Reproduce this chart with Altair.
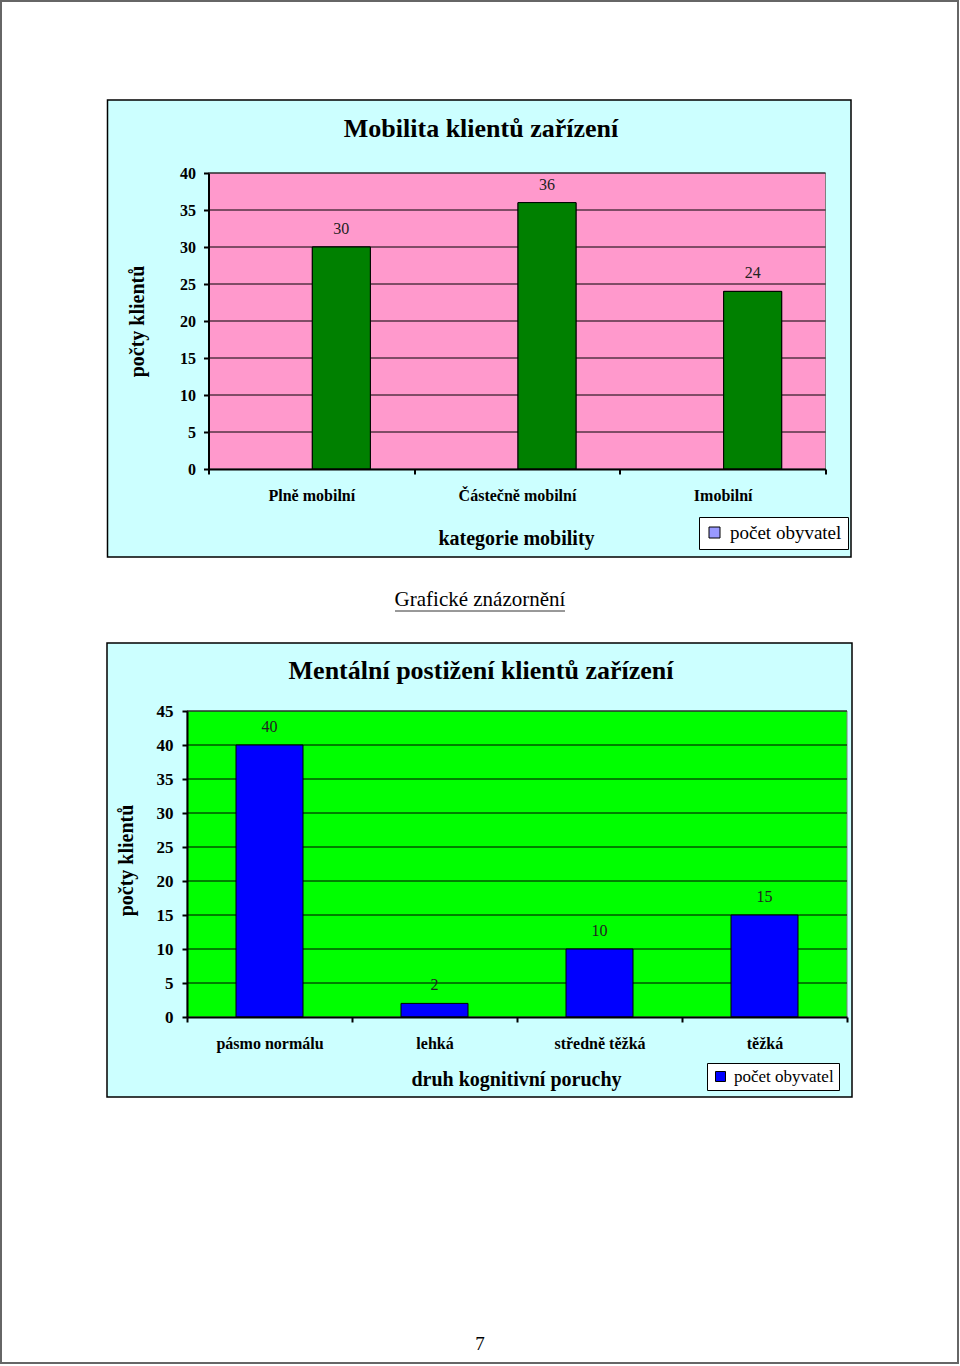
import altair as alt
import pandas as pd

SERIF = "Liberation Serif"

# ---------------- data ----------------
# Chart 1
mob_title = "Mobilita klientů zařízení"
mob_categories = ["Plně mobilní", "Částečně mobilní", "Imobilní"]
mob_values = [30, 36, 24]
mob_ticks = [0, 5, 10, 15, 20, 25, 30, 35, 40]
mob_x_title = "kategorie mobility"

# Chart 2
ment_title = "Mentální postižení klientů zařízení"
ment_categories = ["pásmo normálu", "lehká", "středně těžká", "těžká"]
ment_values = [40, 2, 10, 15]
ment_ticks = [0, 5, 10, 15, 20, 25, 30, 35, 40, 45]
ment_x_title = "druh kognitivní poruchy"

y_title = "počty klientů"
series_name = "počet obyvatel"
section_heading = "Grafické znázornění"
page_number = "7"

one = pd.DataFrame({"k": [0]})


def axis_x(title, tx, ty):
    return alt.Axis(
        title=title, titleX=tx, titleY=ty, titleAlign="center", titleBaseline="middle",
        titleFont=SERIF, titleFontSize=20, titleFontWeight="bold", titleColor="black",
        labelFont=SERIF, labelFontSize=16, labelFontWeight="bold", labelColor="black",
        labelAngle=0, labelBaseline="middle", labelPadding=21, labelLimit=300,
        tickBand="extent", tickSize=5, tickWidth=2, tickColor="black",
        domainColor="black", domainWidth=2, grid=False, zindex=1,
    )


def axis_y(values, tx, ty, lsize, lpad):
    return alt.Axis(
        title=y_title, values=values, titleX=tx, titleY=ty, titleAngle=270,
        titleAlign="center", titleBaseline="middle",
        titleFont=SERIF, titleFontSize=20, titleFontWeight="bold", titleColor="black",
        labelFont=SERIF, labelFontSize=lsize, labelFontWeight="bold", labelColor="black",
        labelPadding=lpad, labelFlush=False, labelOverlap=False,
        tickSize=5, tickWidth=2, tickColor="black",
        domainColor="black", domainWidth=2, grid=False, zindex=1,
    )


def text_at(txt, x, y, size, bold=False, color="black"):
    return alt.Chart(one).mark_text(
        font=SERIF, fontSize=size, fontWeight="bold" if bold else "normal",
        color=color, align="center", baseline="middle",
    ).encode(x=alt.value(x), y=alt.value(y), text=alt.value(txt))


def rect_at(x, x2, y, y2, **style):
    return alt.Chart(one).mark_rect(**style).encode(
        x=alt.value(x), x2=alt.value(x2), y=alt.value(y), y2=alt.value(y2)
    )


# ---------------- chart 1 ----------------
W1, H1 = 617, 296
df1 = pd.DataFrame({"kategorie": mob_categories, "pocet": mob_values, "serie": series_name})
g1 = pd.DataFrame({"v": mob_ticks[1:]})
xs1 = alt.Scale(domain=mob_categories, paddingInner=0, paddingOuter=0)
ys1 = alt.Scale(domain=[0, 40], nice=False, zero=True)
ax1 = axis_x(mob_x_title, 307.5, 69)
ay1 = axis_y(mob_ticks, -71.5, 148, 16, 8)
X1 = alt.X("kategorie:N", sort=mob_categories, scale=xs1, axis=ax1)
Y1 = alt.Y("pocet:Q", scale=ys1, axis=ay1)

frame1 = rect_at(-101, 642.5, -73, 384, fill="#CCFFFF", stroke="black", strokeWidth=1.5)
plot1 = rect_at(0, W1, 0, H1, fill="#FF99CC", stroke="#808080", strokeWidth=1)
grid1 = alt.Chart(g1).mark_rule(color="black", strokeWidth=1).encode(
    y=alt.Y("v:Q", scale=ys1, axis=ay1)
)
legbars1 = alt.Chart(df1).mark_bar(width=58, xOffset=30, stroke="black", strokeWidth=1).encode(
    x=X1, y=Y1,
    color=alt.Color(
        "serie:N",
        scale=alt.Scale(domain=[series_name], range=["#9999FF"]),
        legend=alt.Legend(
            title=None, orient="none", legendX=490.5, legendY=344,
            fillColor="white", strokeColor="black", padding=6,
            symbolType="square", symbolSize=121, symbolStrokeColor="black", symbolStrokeWidth=1,
            labelFont=SERIF, labelFontSize=19, labelColor="black", labelOffset=6, labelLimit=300,
        ),
    ),
)
bars1 = alt.Chart(df1).mark_bar(width=58, xOffset=30, fill="#008000", stroke="black", strokeWidth=1).encode(
    x=X1, y=Y1
)
labels1 = alt.Chart(df1).mark_text(
    font=SERIF, fontSize=16, color="#222222", dy=-18, xOffset=30, baseline="middle"
).encode(x=X1, y=Y1, text="pocet:Q")
title1 = text_at(mob_title, 272.5, -44, 26, bold=True)

c1 = alt.layer(frame1, plot1, grid1, legbars1, bars1, labels1, title1).properties(width=W1, height=H1)

# ---------------- chart 2 ----------------
W2, H2 = 660, 306
df2 = pd.DataFrame({"kategorie": ment_categories, "pocet": ment_values, "serie": series_name})
g2 = pd.DataFrame({"v": ment_ticks[1:]})
xs2 = alt.Scale(domain=ment_categories, paddingInner=0, paddingOuter=0)
ys2 = alt.Scale(domain=[0, 45], nice=False, zero=True)
ax2 = axis_x(ment_x_title, 329, 62)
ay2 = axis_y(ment_ticks, -61, 149, 17, 9)
X2 = alt.X("kategorie:N", sort=ment_categories, scale=xs2, axis=ax2)
Y2 = alt.Y("pocet:Q", scale=ys2, axis=ay2)

page_border = rect_at(-186, 771, -710, 652, fillOpacity=0, stroke="#666666", strokeWidth=2)
heading = text_at(section_heading, 293, -111, 21)
underline = alt.Chart(one).mark_rule(color="#333333", strokeWidth=1).encode(
    x=alt.value(208), x2=alt.value(378), y=alt.value(-100)
)
pagenum = text_at(page_number, 293, 633, 19)

frame2 = rect_at(-80, 665, -68, 386, fill="#CCFFFF", stroke="black", strokeWidth=1.5)
plot2 = rect_at(0, W2, 0, H2, fill="#00FF00", stroke="#808080", strokeWidth=1)
grid2 = alt.Chart(g2).mark_rule(color="black", strokeWidth=1).encode(
    y=alt.Y("v:Q", scale=ys2, axis=ay2)
)
bars2 = alt.Chart(df2).mark_bar(width=67, stroke="black", strokeWidth=1).encode(
    x=X2, y=Y2,
    color=alt.Color(
        "serie:N",
        scale=alt.Scale(domain=[series_name], range=["#0000FF"]),
        legend=alt.Legend(
            title=None, orient="none", legendX=520, legendY=352,
            fillColor="white", strokeColor="black", padding=5,
            symbolType="square", symbolSize=100, symbolStrokeColor="black", symbolStrokeWidth=1,
            labelFont=SERIF, labelFontSize=17, labelColor="black", labelOffset=5, labelLimit=300,
        ),
    ),
)
labels2 = alt.Chart(df2).mark_text(
    font=SERIF, fontSize=16, color="#222222", dy=-18, baseline="middle"
).encode(x=X2, y=Y2, text="pocet:Q")
title2 = text_at(ment_title, 294, -40, 26, bold=True)

c2 = alt.layer(
    page_border, heading, underline, pagenum, frame2, plot2, grid2, bars2, labels2, title2
).properties(width=W2, height=H2)

chart = (
    alt.vconcat(c1, c2, spacing=242, bounds="flush", center=True)
    .resolve_scale(color="independent", x="independent", y="independent")
    .resolve_legend(color="independent")
    .properties(padding=0, background="white")
    .configure(font=SERIF)
    .configure_view(strokeWidth=0)
)

chart.save("out.html", embed_options={"renderer": "svg", "actions": False})
